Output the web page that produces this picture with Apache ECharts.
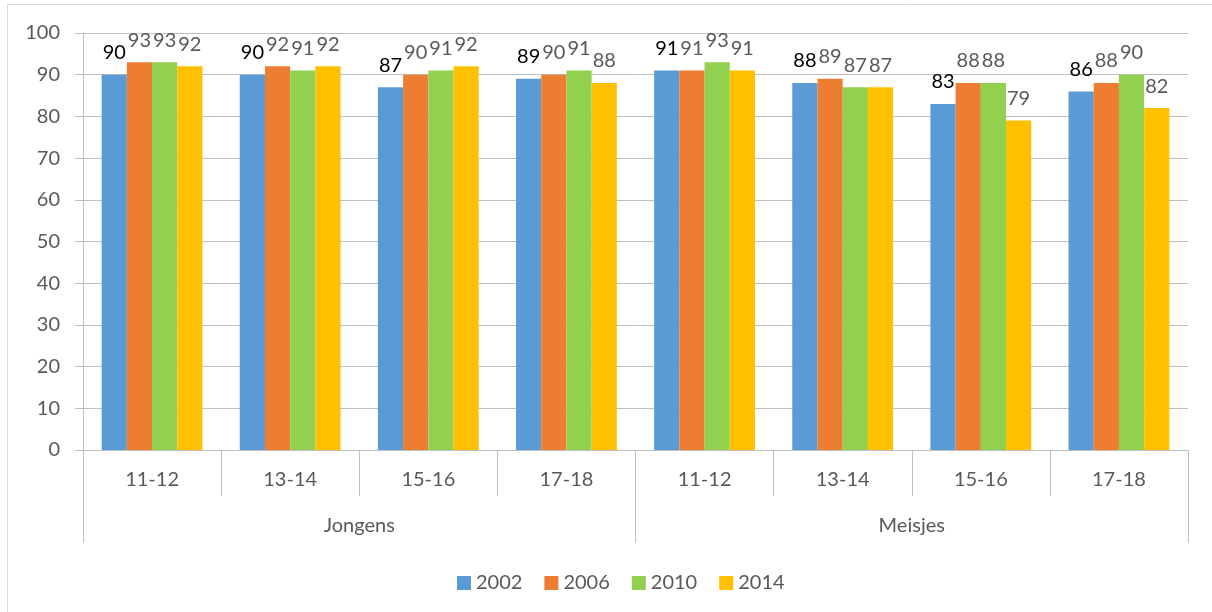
<!DOCTYPE html>
<html>
<head>
<meta charset="utf-8">
<script src="https://cdn.jsdelivr.net/npm/echarts@6/dist/echarts.min.js"></script>
<style>
html,body{margin:0;padding:0;background:#fff;}
#chart{width:1212px;height:612px;}
</style>
</head>
<body>
<div id="chart"></div>
<script>
const ageGroups = ['11-12','13-14','15-16','17-18','11-12','13-14','15-16','17-18'];
const genders = ['Jongens','Meisjes'];
const yTicks = [0,10,20,30,40,50,60,70,80,90,100];
const s2002 = [90,90,87,89,91,88,83,86];
const s2006 = [93,92,90,90,91,89,88,88];
const s2010 = [93,91,91,91,93,87,88,90];
const s2014 = [92,92,92,88,91,87,79,82];

const FONT = 'Lato, "Open Sans", sans-serif';
const axisCol = '#bfbfbf';
const txtCol = '#595959';
const FS = 20;

function mk(name, data, color, labelColor){
  return {
    name: name, type: 'bar', xAxisIndex: 0, data: data,
    barGap: '0%', barCategoryGap: '27%',
    itemStyle: {color: color},
    label: {show: true, position: 'top', distance: 12, color: labelColor,
            fontFamily: FONT, fontSize: FS}
  };
}

const chart = echarts.init(document.getElementById('chart'));
chart.setOption({
  animation: false,
  textStyle: {fontFamily: FONT},
  graphic: [{
    type: 'rect', shape: {x: 7.5, y: 4.5, width: 1300, height: 700},
    style: {fill: 'none', stroke: '#d9d9d9', lineWidth: 1}, silent: true
  }],
  grid: {left: 83, right: 24, top: 33, bottom: 162, containLabel: false},
  legend: {
    left: 452, top: 568, itemWidth: 14, itemHeight: 14, itemGap: 22,
    icon: 'rect',
    textStyle: {fontFamily: FONT, fontSize: FS, color: txtCol},
    data: ['2002','2006','2010','2014']
  },
  xAxis: [{
    type: 'category', data: ageGroups, position: 'bottom',
    axisLine: {show: true, lineStyle: {color: axisCol, width: 1}},
    axisTick: {show: true, length: 46, interval: 0, alignWithLabel: false, lineStyle: {color: axisCol}},
    axisLabel: {margin: 20, interval: 0, fontFamily: FONT, fontSize: FS, color: txtCol},
    splitLine: {show: false}
  },{
    type: 'category', data: genders, position: 'bottom', gridIndex: 0,
    axisLine: {show: false},
    axisTick: {show: true, length: 93, interval: 0, lineStyle: {color: axisCol}},
    axisLabel: {margin: 66, interval: 0, fontFamily: FONT, fontSize: FS, color: txtCol},
    splitLine: {show: false}
  }],
  yAxis: {
    type: 'value', min: 0, max: 100, interval: 10,
    axisLine: {show: true, lineStyle: {color: axisCol}},
    axisTick: {show: true, length: 8, lineStyle: {color: axisCol}},
    axisLabel: {margin: 23, fontFamily: FONT, fontSize: FS, color: txtCol,
                formatter: function(v){ return yTicks.indexOf(v) >= 0 ? String(v) : ''; }},
    splitLine: {show: true, lineStyle: {color: axisCol, width: 1}}
  },
  series: [
    mk('2002', s2002, '#5B9BD5', '#000000'),
    mk('2006', s2006, '#ED7D31', txtCol),
    mk('2010', s2010, '#92D050', txtCol),
    mk('2014', s2014, '#FFC000', txtCol)
  ]
});
</script>
</body>
</html>
